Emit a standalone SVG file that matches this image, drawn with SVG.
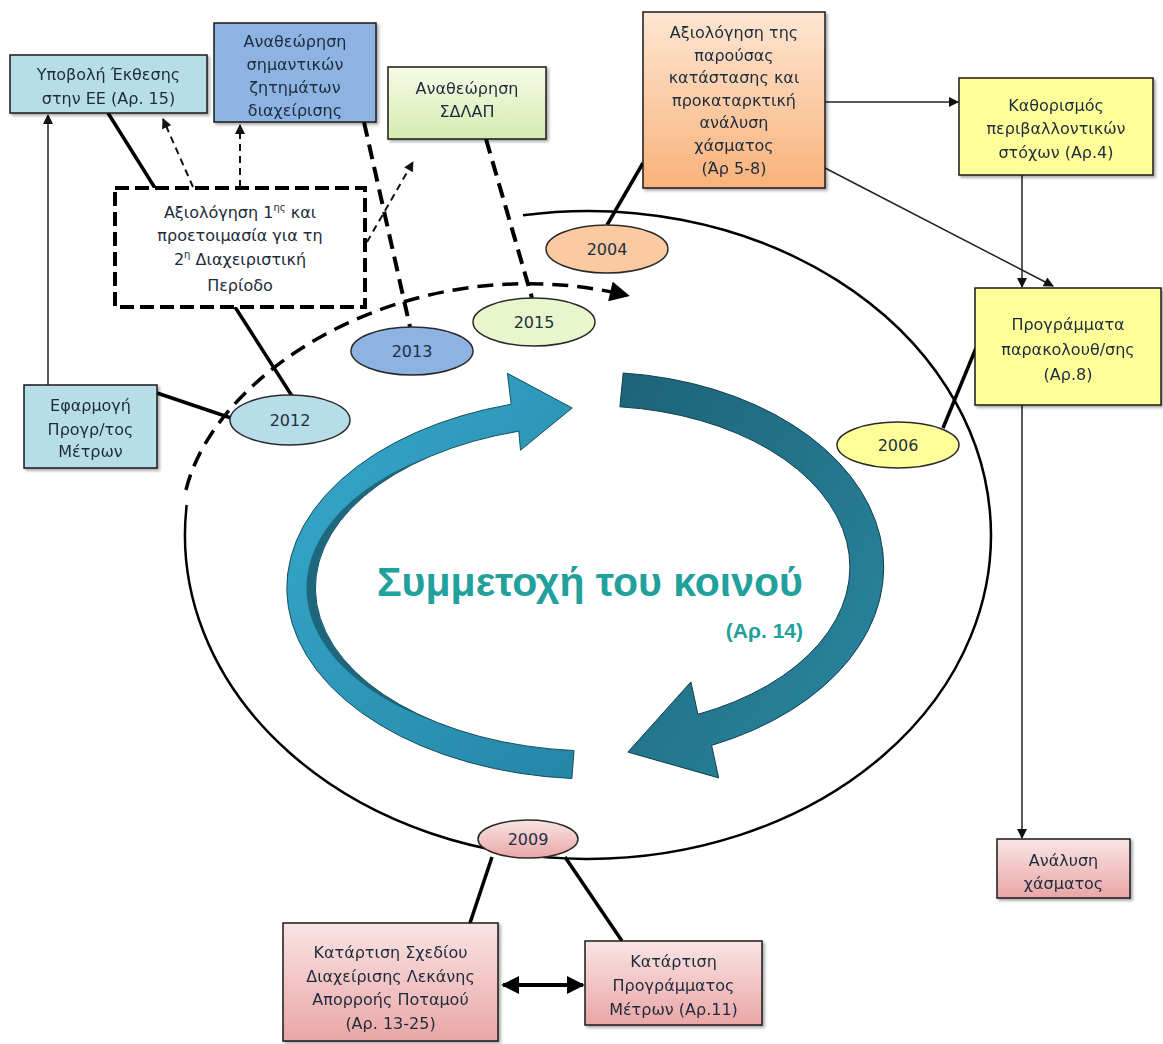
<svg xmlns="http://www.w3.org/2000/svg" width="1163" height="1044" viewBox="0 0 1163 1044">
  <defs>
    <style>
      .box { stroke: #1a1a1a; stroke-width: 1.5; }
      .oval { stroke: #2a2a2a; stroke-width: 1.5; }
      .t { font-family: "DejaVu Sans", "Liberation Sans", sans-serif; font-size: 16px; fill: #1e2b3c; text-anchor: middle; }
      .yr { font-family: "DejaVu Sans", "Liberation Sans", sans-serif; font-size: 16px; fill: #1f2f45; text-anchor: middle; }
      .thick { stroke: #000; stroke-width: 3.5; fill: none; }
      .thin { stroke: #222; stroke-width: 1.5; fill: none; }
      .dthin { stroke: #111; stroke-width: 2; fill: none; stroke-dasharray: 7 5; }
      .dthick { stroke: #000; stroke-width: 4; fill: none; stroke-dasharray: 15 8; }
      .title { font-family: "Liberation Sans", Arial, sans-serif; font-weight: bold; fill: #21a09c; }
    </style>
    <filter id="shadow" x="-10%" y="-10%" width="130%" height="130%">
      <feDropShadow dx="2" dy="2" stdDeviation="1.5" flood-color="#000" flood-opacity="0.35"/>
    </filter>
    <linearGradient id="gOrange" x1="0" y1="0" x2="0" y2="1">
      <stop offset="0" stop-color="#fde6d2"/>
      <stop offset="1" stop-color="#f9b27a"/>
    </linearGradient>
    <linearGradient id="gGreen" x1="0" y1="0" x2="0" y2="1">
      <stop offset="0" stop-color="#f6fbe8"/>
      <stop offset="1" stop-color="#d6ebb0"/>
    </linearGradient>
    <linearGradient id="gPink" x1="0" y1="0" x2="0" y2="1">
      <stop offset="0" stop-color="#fae4e4"/>
      <stop offset="1" stop-color="#eaa6a6"/>
    </linearGradient>
    <linearGradient id="gArrowA" x1="0" y1="0" x2="1" y2="1">
      <stop offset="0" stop-color="#36a9cb"/>
      <stop offset="1" stop-color="#2586a6"/>
    </linearGradient>
    <linearGradient id="gArrowB" x1="0" y1="0" x2="1" y2="1">
      <stop offset="0" stop-color="#1c6377"/>
      <stop offset="1" stop-color="#2a88a2"/>
    </linearGradient>
    <marker id="ah" viewBox="0 0 10 10" refX="9" refY="5" markerWidth="11" markerHeight="10" markerUnits="userSpaceOnUse" orient="auto">
      <path d="M0,0 L10,5 L0,10 z" fill="#111"/>
    </marker>
    <marker id="ahBig" viewBox="0 0 10 10" refX="8" refY="5" markerWidth="22" markerHeight="20" markerUnits="userSpaceOnUse" orient="auto">
      <path d="M0,0 L10,5 L0,10 z" fill="#000"/>
    </marker>
    <marker id="ahDouble" viewBox="0 0 10 10" refX="9" refY="5" markerWidth="18" markerHeight="18" markerUnits="userSpaceOnUse" orient="auto-start-reverse">
      <path d="M0,0 L10,5 L0,10 z" fill="#000"/>
    </marker>
  </defs>

  <rect width="1163" height="1044" fill="#ffffff"/>

  <!-- management cycle: outer ring, dashed second-period arc, circular arrows -->
  <g id="cycle">
    <path d="M523,215.2 A403 324 0 1 1 186.7,505" fill="none" stroke="#000" stroke-width="2.5"/>
    <path d="M186,490 C215,370 410,245 626,295" fill="none" stroke="#000" stroke-width="3.5" stroke-dasharray="16 9" marker-end="url(#ahBig)"/>
    <path d="M574,750.5 L571.9,778.5 A308 191 0 0 1 511.2,404.2 L507.4,373.3 L572.2,408 L520.5,450.2 L518.8,431.2 A280 163 0 0 0 574,750.5 Z" fill="url(#gArrowA)" stroke="#14505f" stroke-width="1"/>
    <!-- darker inner face where the left ribbon turns -->
    <path d="M434.4,721.5 A280 163 0 0 1 434.4,454.5 A270 157 0 0 0 434.4,721.5 Z" fill="#1b5d70" opacity="0.85"/>
    <path d="M619.9,406.8 L623.2,373 A289 195 0 0 1 711.6,745.4 L718.7,777.9 L627.9,752.1 L690.9,681.9 L697.9,714.3 A255 161 0 0 0 619.9,406.8 Z" fill="url(#gArrowB)" stroke="#0f3f4d" stroke-width="1"/>
    <text class="title" x="590" y="596" font-size="41" text-anchor="middle">Συμμετοχή του κοινού</text>
    <text class="title" x="803" y="638" font-size="21" text-anchor="end" fill="#35aaa8">(Αρ. 14)</text>
  </g>

  <g id="connectors">
    <path class="thin" d="M48,385 V115" marker-end="url(#ah)"/>
    <path class="thick" d="M108,113 L155,188"/>
    <path class="dthin" d="M193,187 L163,119" marker-end="url(#ah)"/>
    <path class="dthin" d="M240,187 V125" marker-end="url(#ah)"/>
    <path class="dthin" d="M367,242 L413,162" marker-end="url(#ah)"/>
    <path class="dthick" d="M364,122 L410,327"/>
    <path class="dthick" d="M486,139 L532,298"/>
    <path class="thick" d="M235,307 L292,396"/>
    <path class="thick" d="M157,393 L231,418"/>
    <path class="thick" d="M643,163 L607,225"/>
    <path class="thin" d="M825,102 H958" marker-end="url(#ah)"/>
    <path class="thin" d="M825,168 L1053,286" marker-end="url(#ah)"/>
    <path class="thin" d="M1022,175 V287" marker-end="url(#ah)"/>
    <path class="thin" d="M1022,405 V838" marker-end="url(#ah)"/>
    <path class="thick" d="M943,428 L976,348"/>
    <path class="thick" d="M492,857 L470,923"/>
    <path class="thick" d="M565,857 L622,941"/>
    <path d="M503,985 H583" stroke="#000" stroke-width="4" fill="none" marker-start="url(#ahDouble)" marker-end="url(#ahDouble)"/>
  </g>

  <!-- year markers on the cycle -->
  <g id="y2004"><ellipse class="oval" cx="607" cy="249" rx="61" ry="24" fill="#fbcaa0"/><text class="yr" x="607" y="255">2004</text></g>
  <g id="y2015"><ellipse class="oval" cx="534" cy="322" rx="61" ry="24" fill="#e9f5cc"/><text class="yr" x="534" y="328">2015</text></g>
  <g id="y2013"><ellipse class="oval" cx="412" cy="351" rx="61" ry="24" fill="#8db3e2"/><text class="yr" x="412" y="357">2013</text></g>
  <g id="y2012"><ellipse class="oval" cx="290" cy="420" rx="60" ry="25" fill="#b7dde8"/><text class="yr" x="290" y="426">2012</text></g>
  <g id="y2006"><ellipse class="oval" cx="898" cy="445" rx="61" ry="23" fill="#ffff99"/><text class="yr" x="898" y="451">2006</text></g>
  <g id="y2009"><ellipse class="oval" cx="528" cy="839" rx="50" ry="19" fill="url(#gPink)"/><text class="yr" x="528" y="845">2009</text></g>

  <!-- process boxes -->
  <g id="report-eu" filter="url(#shadow)">
    <rect class="box" x="10" y="55" width="197" height="58" fill="#b7dde8"/>
    <text class="t" x="108.5"><tspan x="108.5" y="80">Υποβολή Έκθεσης</tspan><tspan x="108.5" y="104">στην ΕΕ (Αρ. 15)</tspan></text>
  </g>
  <g id="review-issues" filter="url(#shadow)">
    <rect class="box" x="214" y="23" width="162" height="99" fill="#8db3e2"/>
    <text class="t" x="295"><tspan x="295" y="47">Αναθεώρηση</tspan><tspan x="295" y="70">σημαντικών</tspan><tspan x="295" y="93">ζητημάτων</tspan><tspan x="295" y="116">διαχείρισης</tspan></text>
  </g>
  <g id="review-plan" filter="url(#shadow)">
    <rect class="box" x="388" y="67" width="158" height="72" fill="url(#gGreen)"/>
    <text class="t" x="467"><tspan x="467" y="94">Αναθεώρηση</tspan><tspan x="467" y="117">ΣΔΛΑΠ</tspan></text>
  </g>
  <g id="current-status" filter="url(#shadow)">
    <rect class="box" x="643" y="12" width="182" height="176" fill="url(#gOrange)"/>
    <text class="t" x="734"><tspan x="734" y="38">Αξιολόγηση της</tspan><tspan x="734" y="61">παρούσας</tspan><tspan x="734" y="83">κατάστασης και</tspan><tspan x="734" y="106">προκαταρκτική</tspan><tspan x="734" y="128">ανάλυση</tspan><tspan x="734" y="151">χάσματος</tspan><tspan x="734" y="174">(Άρ 5-8)</tspan></text>
  </g>
  <g id="env-objectives" filter="url(#shadow)">
    <rect class="box" x="959" y="78" width="194" height="97" fill="#ffff99"/>
    <text class="t" x="1056"><tspan x="1056" y="111">Καθορισμός</tspan><tspan x="1056" y="134">περιβαλλοντικών</tspan><tspan x="1056" y="158">στόχων (Αρ.4)</tspan></text>
  </g>
  <g id="monitoring" filter="url(#shadow)">
    <rect class="box" x="975" y="288" width="186" height="117" fill="#ffff99"/>
    <text class="t" x="1068"><tspan x="1068" y="330">Προγράμματα</tspan><tspan x="1068" y="355">παρακολουθ/σης</tspan><tspan x="1068" y="380">(Αρ.8)</tspan></text>
  </g>
  <g id="measures-implementation" filter="url(#shadow)">
    <rect class="box" x="24" y="385" width="133" height="83" fill="#b7dde8"/>
    <text class="t" x="90.5"><tspan x="90.5" y="411">Εφαρμογή</tspan><tspan x="90.5" y="435">Προγρ/τος</tspan><tspan x="90.5" y="457">Μέτρων</tspan></text>
  </g>
  <g id="first-period-review">
    <rect x="115" y="188" width="250" height="119" fill="#fff" stroke="#000" stroke-width="4" stroke-dasharray="14 6"/>
    <text class="t" x="240"><tspan x="240" y="218">Αξιολόγηση 1<tspan font-size="10" dy="-7">ης</tspan><tspan dy="7"> και</tspan></tspan><tspan x="240" y="241">προετοιμασία για τη</tspan><tspan x="240" y="265">2<tspan font-size="10" dy="-7">η</tspan><tspan dy="7"> Διαχειριστική</tspan></tspan><tspan x="240" y="291">Περίοδο</tspan></text>
  </g>
  <g id="gap-analysis" filter="url(#shadow)">
    <rect class="box" x="997" y="839" width="133" height="59" fill="url(#gPink)"/>
    <text class="t" x="1063.5"><tspan x="1063.5" y="866">Ανάλυση</tspan><tspan x="1063.5" y="889">χάσματος</tspan></text>
  </g>
  <g id="rbmp" filter="url(#shadow)">
    <rect class="box" x="283" y="923" width="215" height="118" fill="url(#gPink)"/>
    <text class="t" x="390.5"><tspan x="390.5" y="958">Κατάρτιση Σχεδίου</tspan><tspan x="390.5" y="982">Διαχείρισης Λεκάνης</tspan><tspan x="390.5" y="1005">Απορροής Ποταμού</tspan><tspan x="390.5" y="1029">(Αρ. 13-25)</tspan></text>
  </g>
  <g id="programme-measures" filter="url(#shadow)">
    <rect class="box" x="585" y="941" width="177" height="84" fill="url(#gPink)"/>
    <text class="t" x="673.5"><tspan x="673.5" y="967">Κατάρτιση</tspan><tspan x="673.5" y="991">Προγράμματος</tspan><tspan x="673.5" y="1015">Μέτρων (Αρ.11)</tspan></text>
  </g>
</svg>
